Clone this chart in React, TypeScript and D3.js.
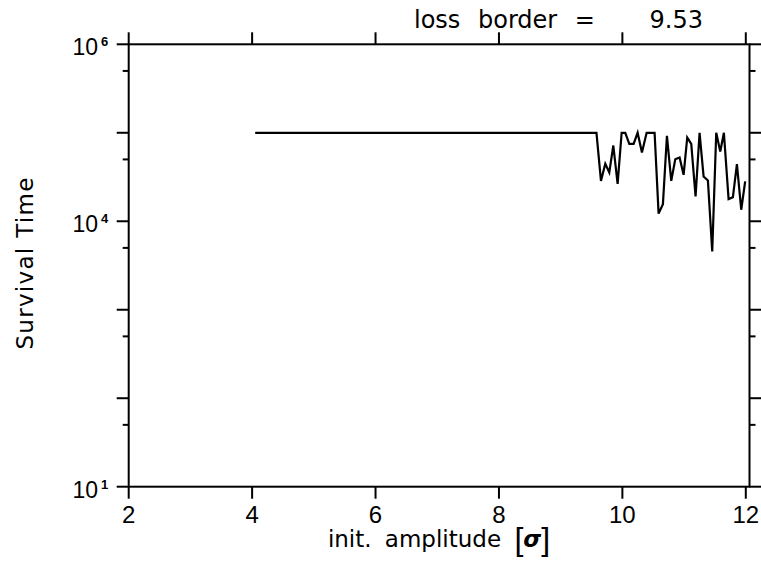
import * as d3 from 'd3'

// initial amplitude (sigma) and survival time (turns)
const amplitude = [4.05, 9.58, 9.653, 9.723, 9.788, 9.853, 9.923, 9.988, 10.047, 10.112, 10.182, 10.247, 10.317, 10.393, 10.457, 10.522, 10.587, 10.657, 10.722, 10.792, 10.857, 10.927, 10.992, 11.051, 11.116, 11.186, 11.251, 11.316, 11.386, 11.456, 11.521, 11.586, 11.645, 11.721, 11.791, 11.856, 11.926, 11.99]
const survival = [1e5, 1e5, 28600, 44600, 35600, 71800, 26500, 1e5, 1e5, 75000, 75000, 1e5, 59800, 1e5, 1e5, 1e5, 12200, 15600, 92200, 28600, 50300, 52500, 33500, 88300, 75000, 19100, 1e5, 32100, 28900, 4560, 1e5, 61400, 1e5, 17800, 18700, 44200, 13500, 28200]

const xTicks = [2, 4, 6, 8, 10, 12]
const yMajor = [1e1, 1e2, 1e3, 1e4, 1e5, 1e6]
const yMinor = [50, 500, 5000, 50000, 500000]
const yLabels = [
  { v: 1e6, exp: '6' },
  { v: 1e4, exp: '4' },
  { v: 1e1, exp: '1' },
]
const lossBorder = '9.53'

const W = 761
const H = 561
const plot = { left: 128.7, right: 749.5, top: 44.3, bottom: 486.7 }

export default function App() {
  const x = d3.scaleLinear().domain([2, 12.06]).range([plot.left, plot.right])
  const y = d3.scaleLog().domain([10, 1e6]).range([plot.bottom, plot.top])

  const line = d3.line<number>()
    .x((d, i) => x(amplitude[i]))
    .y(d => y(d))

  const numFont = 'Liberation Sans, Arial, sans-serif'
  const textFont = 'DejaVu Sans, sans-serif'
  const major = 12
  const minor = 6

  return (
    <div style={{ position: 'absolute', left: 0, top: 0 }}>
      <svg width={W} height={H} style={{ display: 'block', background: '#fff' }}>
        {/* frame */}
        <rect x={plot.left} y={plot.top} width={plot.right - plot.left} height={plot.bottom - plot.top}
          fill="none" stroke="#000" strokeWidth={2} />

        {/* x ticks, top and bottom, pointing out */}
        {xTicks.map(t => (
          <g key={'x' + t}>
            <line x1={x(t)} x2={x(t)} y1={plot.bottom} y2={plot.bottom + major} stroke="#000" strokeWidth={2} />
            <line x1={x(t)} x2={x(t)} y1={plot.top} y2={plot.top - major} stroke="#000" strokeWidth={2} />
            <text x={x(t)} y={523} textAnchor="middle" fontFamily={numFont} fontSize={24}>{t}</text>
          </g>
        ))}

        {/* y ticks, left and right */}
        {yMajor.map(t => (
          <g key={'ym' + t}>
            <line x1={plot.left - major} x2={plot.left} y1={y(t)} y2={y(t)} stroke="#000" strokeWidth={2} />
            <line x1={plot.right} x2={plot.right + major} y1={y(t)} y2={y(t)} stroke="#000" strokeWidth={2} />
          </g>
        ))}
        {yMinor.map(t => (
          <g key={'yn' + t}>
            <line x1={plot.left - minor} x2={plot.left} y1={y(t)} y2={y(t)} stroke="#000" strokeWidth={2} />
            <line x1={plot.right} x2={plot.right + minor} y1={y(t)} y2={y(t)} stroke="#000" strokeWidth={2} />
          </g>
        ))}
        {yLabels.map(l => (
          <g key={'yl' + l.exp}>
            <text x={98} y={y(l.v) + 11} textAnchor="end" fontFamily={numFont} fontSize={23}>10</text>
            <text x={101} y={y(l.v) + 2} fontFamily={numFont} fontSize={13} fontWeight="bold">{l.exp}</text>
          </g>
        ))}

        {/* data */}
        <path d={line(survival) || ''} fill="none" stroke="#000" strokeWidth={2.2} />

        {/* labels */}
        <text x={439} y={547} textAnchor="middle" fontFamily={textFont} fontSize={23} wordSpacing={6}>
          init. amplitude <tspan fontFamily={numFont} fontSize={32} dy={3}>[</tspan><tspan fontStyle="italic" fontWeight="bold" dy={-3}>σ</tspan><tspan fontFamily={numFont} fontSize={32} dy={3}>]</tspan>
        </text>
        <text transform="translate(33,263) rotate(-90)" textAnchor="middle" fontFamily={textFont} fontSize={23}
          letterSpacing={1.3}>Survival Time</text>
        <text x={414} y={28} fontFamily={textFont} fontSize={24} wordSpacing={10}>loss border =</text>
        <text x={703} y={28} textAnchor="end" fontFamily={textFont} fontSize={24}>{lossBorder}</text>
      </svg>
    </div>
  )
}
